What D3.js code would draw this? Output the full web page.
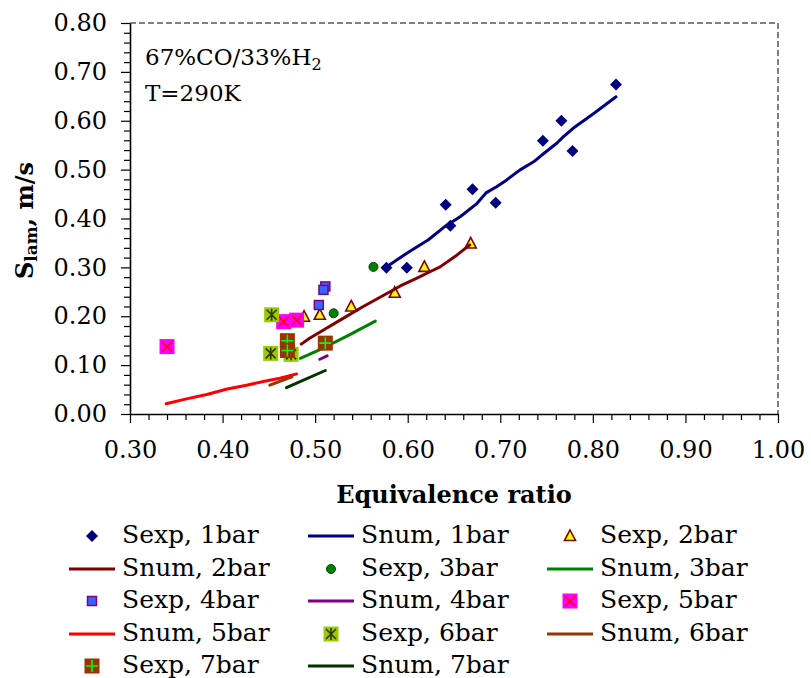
<!DOCTYPE html>
<html>
<head>
<meta charset="utf-8">
<script src="https://cdn.jsdelivr.net/npm/d3@7"></script>
<style>
  body { margin: 0; background: #fff; }
  svg { display: block; font-family: "DejaVu Serif", serif; }
</style>
</head>
<body>
<div id="chart"></div>
<script>
// ---- data: [equivalence ratio, S_lam (m/s)] ----
const sexp1bar = [[0.825, 0.674], [0.766, 0.600], [0.746, 0.559], [0.778, 0.538], [0.670, 0.460],
                  [0.641, 0.428], [0.695, 0.432], [0.646, 0.385], [0.577, 0.299], [0.599, 0.299]];
const snum1bar = [[0.577, 0.301], [0.599, 0.329], [0.622, 0.356], [0.639, 0.382], [0.657, 0.404],
                  [0.675, 0.431], [0.685, 0.453], [0.696, 0.465], [0.707, 0.479], [0.721, 0.499],
                  [0.736, 0.516], [0.747, 0.533], [0.761, 0.554], [0.768, 0.567], [0.779, 0.585],
                  [0.801, 0.615], [0.825, 0.649]];
const sexp2bar = [[0.668, 0.349], [0.618, 0.301], [0.586, 0.248], [0.539, 0.220], [0.505, 0.203], [0.488, 0.199]];
const snum2bar = [[0.485, 0.143], [0.494, 0.155], [0.509, 0.172], [0.527, 0.192], [0.552, 0.220],
                  [0.577, 0.246], [0.592, 0.262], [0.610, 0.278], [0.624, 0.291], [0.635, 0.301],
                  [0.653, 0.325], [0.667, 0.346]];
const sexp3bar = [[0.563, 0.301], [0.520, 0.206]];
const snum3bar = [[0.484, 0.114], [0.510, 0.136], [0.537, 0.162], [0.565, 0.190]];
const sexp4bar = [[0.511, 0.261], [0.509, 0.254], [0.504, 0.223]];
const snum4bar = [[0.505, 0.112], [0.513, 0.119]];
const sexp5bar = [[0.340, 0.138], [0.466, 0.189], [0.480, 0.192]];
const snum5bar = [[0.339, 0.021], [0.361, 0.031], [0.383, 0.040], [0.405, 0.051], [0.426, 0.059],
                  [0.448, 0.068], [0.462, 0.073], [0.480, 0.082]];
const sexp6bar = [[0.453, 0.203], [0.452, 0.124], [0.474, 0.122]];
const snum6bar = [[0.451, 0.059], [0.475, 0.076]];
const sexp7bar = [[0.470, 0.150], [0.470, 0.130], [0.511, 0.145]];
const snum7bar = [[0.469, 0.054], [0.511, 0.089]];

const xTicks = [0.3, 0.4, 0.5, 0.6, 0.7, 0.8, 0.9, 1.0];
const yTicks = [0, 0.1, 0.2, 0.3, 0.4, 0.5, 0.6, 0.7, 0.8];

// series in drawing order (also legend order)
const series = [
    { name: "Sexp, 1bar", type: "marker", data: sexp1bar, symbol: "diamond", fill: "#000080", stroke: "#000080" },
    { name: "Snum, 1bar", type: "line", data: snum1bar, stroke: "#000080" },
    { name: "Sexp, 2bar", type: "marker", data: sexp2bar, symbol: "triangle", fill: "#ffff00", stroke: "#800000" },
    { name: "Snum, 2bar", type: "line", data: snum2bar, stroke: "#800000" },
    { name: "Sexp, 3bar", type: "marker", data: sexp3bar, symbol: "circle", fill: "#008000", stroke: "#004000" },
    { name: "Snum, 3bar", type: "line", data: snum3bar, stroke: "#008000" },
    { name: "Sexp, 4bar", type: "marker", data: sexp4bar, symbol: "square", fill: "#3366ff", stroke: "#800080" },
    { name: "Snum, 4bar", type: "line", data: snum4bar, stroke: "#800080" },
    { name: "Sexp, 5bar", type: "marker", data: sexp5bar, symbol: "xbox", fill: "#ff00ff", stroke: "#ff0000" },
    { name: "Snum, 5bar", type: "line", data: snum5bar, stroke: "#ff0000" },
    { name: "Sexp, 6bar", type: "marker", data: sexp6bar, symbol: "starbox", fill: "#99cc00", stroke: "#333300" },
    { name: "Snum, 6bar", type: "line", data: snum6bar, stroke: "#993300" },
    { name: "Sexp, 7bar", type: "marker", data: sexp7bar, symbol: "plusbox", fill: "#993300", stroke: "#00ff00" },
    { name: "Snum, 7bar", type: "line", data: snum7bar, stroke: "#003300" }
];

const width = 811;
const height = 678;
const margins = { top: 23, right: 33, bottom: 264, left: 130 };

const svg = d3.select("#chart")
    .append("svg")
    .attr("width", width)
    .attr("height", height);

const x = d3.scaleLinear()
    .domain([0.3, 1.0])
    .range([margins.left, width - margins.right]);
const y = d3.scaleLinear()
    .domain([0, 0.8])
    .range([height - margins.bottom, margins.top]);

const x0 = x.range()[0], x1 = x.range()[1];
const y0 = y.range()[0], y1 = y.range()[1];

// dashed frame on top and right
svg.append("path")
    .attr("d", `M${x0},${y1}H${x1}V${y0}`)
    .attr("fill", "none")
    .attr("stroke", "#808080")
    .attr("stroke-width", 2)
    .attr("stroke-dasharray", "6,3");

// minor ticks
const xMinor = d3.range(0, 36).map(i => 0.3 + i * 0.02).filter((_, i) => i % 5 != 0);
const yMinor = d3.range(0, 41).map(i => i * 0.02).filter((_, i) => i % 5 != 0);

svg.append("g")
    .attr("transform", `translate(0,${y0})`)
    .call(d3.axisBottom(x).tickValues(xMinor).tickSize(6).tickFormat(""))
    .call(g => g.select(".domain").remove());
svg.append("g")
    .attr("transform", `translate(${x0},0)`)
    .call(d3.axisLeft(y).tickValues(yMinor).tickSize(6).tickFormat(""))
    .call(g => g.select(".domain").remove());

const gx = svg.append("g")
    .attr("transform", `translate(0,${y0})`)
    .call(d3.axisBottom(x).tickValues(xTicks).tickSize(9).tickSizeOuter(0).tickPadding(18).tickFormat(d3.format(".2f")));
const gy = svg.append("g")
    .attr("transform", `translate(${x0},0)`)
    .call(d3.axisLeft(y).tickValues(yTicks).tickSize(9).tickSizeOuter(0).tickPadding(14).tickFormat(d3.format(".2f")));

[gx, gy].forEach(g => {
    g.attr("font-family", "DejaVu Serif, serif").attr("font-size", 24);
    g.selectAll("text").attr("fill", "#000");
    g.select(".domain").attr("stroke", "#000").attr("stroke-width", 1.6);
});
svg.selectAll("g line").attr("stroke", "#000").attr("stroke-width", 1.2);

// axis titles
svg.append("text")
    .attr("x", (x0 + x1) / 2)
    .attr("y", 503)
    .attr("text-anchor", "middle")
    .attr("font-size", 24)
    .attr("font-weight", "bold")
    .text("Equivalence ratio");

const yTitle = svg.append("text")
    .attr("transform", `translate(33,${(y0 + y1) / 2 + 2}) rotate(-90)`)
    .attr("text-anchor", "middle")
    .attr("font-size", 24)
    .attr("font-weight", "bold");
yTitle.append("tspan").text("S");
yTitle.append("tspan").attr("font-size", 17).attr("dy", 4).text("lam");
yTitle.append("tspan").attr("dy", -4).text(", m/s");

// annotation
const note = svg.append("text")
    .attr("x", 145)
    .attr("y", 65)
    .attr("font-size", 23);
note.append("tspan").text("67%CO/33%H");
note.append("tspan").attr("font-size", 16).attr("dy", 5).text("2");
svg.append("text")
    .attr("x", 145)
    .attr("y", 101)
    .attr("font-size", 23)
    .text("T=290K");

// marker drawing
drawMarker = (g, s, cx, cy) => {
    const m = g.append("g").attr("transform", `translate(${cx},${cy})`);
    if (s.symbol == "diamond") {
        m.append("path").attr("d", "M0,-6L6,0L0,6L-6,0Z").attr("fill", s.fill);
    } else if (s.symbol == "triangle") {
        m.append("path").attr("d", "M0,-6L5.5,4.5L-5.5,4.5Z")
            .attr("fill", s.fill).attr("stroke", s.stroke).attr("stroke-width", 1.6);
    } else if (s.symbol == "circle") {
        m.append("circle").attr("r", 4.5)
            .attr("fill", s.fill).attr("stroke", s.stroke).attr("stroke-width", 1);
    } else if (s.symbol == "square") {
        m.append("rect").attr("x", -4.5).attr("y", -4.5).attr("width", 9).attr("height", 9)
            .attr("fill", s.fill).attr("stroke", s.stroke).attr("stroke-width", 1.5);
    } else {
        m.append("rect").attr("x", -7.5).attr("y", -7.5).attr("width", 15).attr("height", 15)
            .attr("fill", s.fill);
        var p = "";
        if (s.symbol == "xbox") p = "M-5,-5L5,5M5,-5L-5,5";
        if (s.symbol == "starbox") p = "M-5,-5L5,5M5,-5L-5,5M0,-6V6";
        if (s.symbol == "plusbox") p = "M-6,0H6M0,-6V6";
        m.append("path").attr("d", p).attr("stroke", s.stroke).attr("stroke-width", 1.6).attr("fill", "none");
    }
};

const line = d3.line()
    .x(d => x(d[0]))
    .y(d => y(d[1]));

const plot = svg.append("g");
series.forEach(s => {
    if (s.type == "line") {
        plot.append("path")
            .datum(s.data)
            .attr("d", line)
            .attr("fill", "none")
            .attr("stroke", s.stroke)
            .attr("stroke-width", 3)
            .attr("stroke-linecap", "round")
            .attr("stroke-linejoin", "round");
    } else {
        s.data.forEach(d => drawMarker(plot, s, x(d[0]), y(d[1])));
    }
});

// legend: 3 columns, row-major
const legendCols = [92, 331, 570];
const legendRows = [543, 576, 608, 641, 673];
const legend = svg.append("g");
series.forEach((s, i) => {
    const cx = legendCols[i % 3];
    const by = legendRows[Math.floor(i / 3)];
    const cy = by - 7;
    if (s.type == "line") {
        legend.append("line")
            .attr("x1", cx - 23).attr("x2", cx + 23)
            .attr("y1", cy).attr("y2", cy)
            .attr("stroke", s.stroke)
            .attr("stroke-width", 3);
    } else {
        drawMarker(legend, s, cx, cy);
    }
    legend.append("text")
        .attr("x", cx + 30)
        .attr("y", by)
        .attr("font-size", 25)
        .text(s.name);
});
</script>
</body>
</html>
